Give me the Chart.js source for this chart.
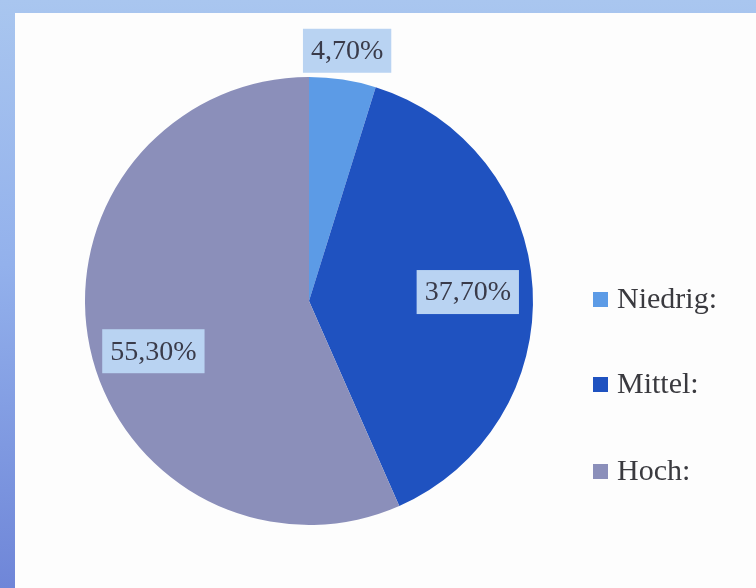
<!DOCTYPE html>
<html>
<head>
<meta charset="utf-8">
<script src="https://cdn.jsdelivr.net/npm/chart.js@4/dist/chart.umd.min.js"></script>
<style>
  html, body { margin: 0; padding: 0; }
  body {
    width: 756px; height: 588px; overflow: hidden; position: relative;
    background: linear-gradient(180deg, #a9c6ef 0%, #93b1ec 45%, #6f86d8 100%);
  }
  #panel {
    position: absolute; left: 15px; top: 13px; width: 741px; height: 575px;
    background: #fdfdfd;
  }
  canvas { display: block; }
</style>
</head>
<body>
<div id="panel"><canvas id="chart" width="741" height="575"></canvas></div>
<script>
// Risk level shares (percent)
const categories = ['Niedrig:', 'Mittel:', 'Hoch:'];
const shares = [4.7, 37.7, 55.3];
const valueLabels = ['4,70%', '37,70%', '55,30%'];
const sliceColors = ['#5c9be6', '#1f52c0', '#8b8fba'];

// value label placement: distance from the centre (fraction of radius)
// and a small turn away from the slice's mid angle (degrees)
const labelRadius = [1.13, 0.71, 0.73];
const labelTurn = [0, 0, -6];

const FONT = '"Liberation Serif", "DejaVu Serif", serif';

const valueLabelPlugin = {
  id: 'valueLabels',
  afterDatasetsDraw(chart) {
    const ctx = chart.ctx;
    const arcs = chart.getDatasetMeta(0).data;
    ctx.save();
    ctx.font = '28px ' + FONT;
    ctx.textAlign = 'center';
    ctx.textBaseline = 'middle';
    arcs.forEach((arc, i) => {
      const p = arc.getProps(['x', 'y', 'startAngle', 'endAngle', 'outerRadius'], true);
      const mid = (p.startAngle + p.endAngle) / 2 + labelTurn[i] * Math.PI / 180;
      const r = p.outerRadius * labelRadius[i];
      const cx = p.x + Math.cos(mid) * r;
      const cy = p.y + Math.sin(mid) * r;
      const text = valueLabels[i];
      const w = ctx.measureText(text).width + 16;
      const h = 44;
      ctx.fillStyle = '#b9d3f2';
      ctx.fillRect(cx - w / 2, cy - h / 2, w, h);
      ctx.fillStyle = '#3a3b4a';
      ctx.fillText(text, cx, cy + 1);
    });
    ctx.restore();
  }
};

const sideLegendPlugin = {
  id: 'sideLegend',
  afterDraw(chart) {
    const ctx = chart.ctx;
    const rows = [295, 380, 467];
    const x0 = 578;
    ctx.save();
    ctx.font = '30px ' + FONT;
    ctx.textAlign = 'left';
    ctx.textBaseline = 'alphabetic';
    chart.data.labels.forEach((lab, i) => {
      const y = rows[i];
      ctx.fillStyle = chart.data.datasets[0].backgroundColor[i];
      ctx.fillRect(x0, y - 16, 15, 15);
      ctx.fillStyle = '#3a3a3f';
      ctx.fillText(lab, x0 + 24, y);
    });
    ctx.restore();
  }
};

new Chart(document.getElementById('chart'), {
  type: 'pie',
  data: {
    labels: categories,
    datasets: [{
      data: shares,
      backgroundColor: sliceColors,
      borderWidth: 0
    }]
  },
  options: {
    responsive: false,
    animation: false,
    layout: { padding: { left: 70, right: 223, top: 64, bottom: 63 } },
    plugins: {
      legend: { display: false },
      tooltip: { enabled: false }
    }
  },
  plugins: [valueLabelPlugin, sideLegendPlugin]
});
</script>
</body>
</html>
